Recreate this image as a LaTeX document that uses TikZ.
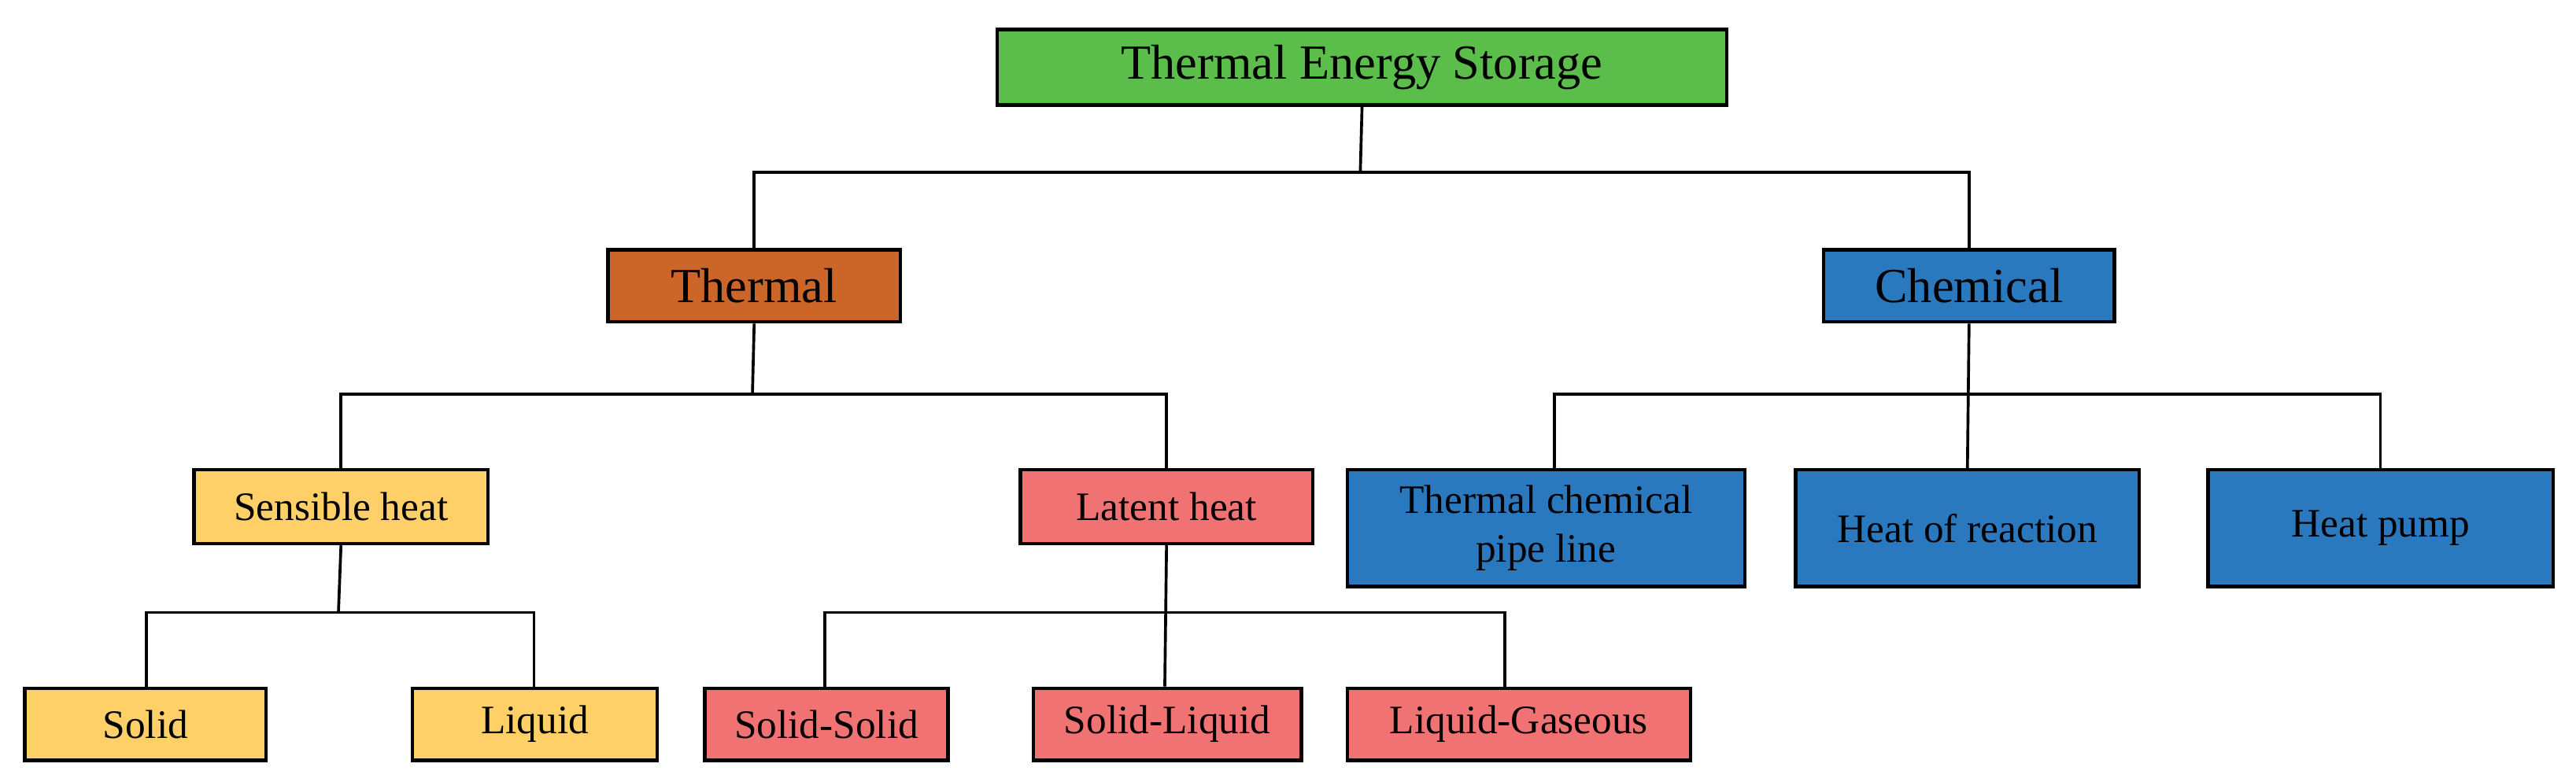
\documentclass[tikz,border=0pt]{standalone}
\usepackage{fontspec}
\setmainfont{Liberation Serif}
\begin{document}
\begin{tikzpicture}[x=0.02cm,y=-0.02cm,
 box/.style={draw=black,line width=1.2pt,inner sep=0pt,anchor=north west,align=center},
 big/.style={font=\fontsize{17}{20}\selectfont},
 sm/.style={font=\fontsize{14}{17}\selectfont},
 ln/.style={line width=1pt}]
\definecolor{cg}{HTML}{5BBD4A}
\definecolor{co}{HTML}{CC6628}
\definecolor{cy}{HTML}{FFD068}
\definecolor{cp}{HTML}{F07272}
\definecolor{cb}{HTML}{2A78BE}
\useasboundingbox (0,0) rectangle (1568,476);
\newcommand{\bx}[8]{\node[box,fill=#6,minimum width=#4*0.02cm,minimum height=#5*0.02cm,#7] (#1) at (#2,#3) {#8};}
\bx{tes}{606}{17}{444}{46}{cg}{big}{Thermal Energy Storage}
\bx{th}{369}{151}{178}{44}{co}{big}{Thermal}
\bx{ch}{1109}{151}{177}{44}{cb}{big}{Chemical}
\bx{se}{117}{285}{179}{45}{cy}{sm}{Sensible heat}
\bx{la}{620}{285}{178}{45}{cp}{sm}{Latent heat}
\bx{tc}{819}{285}{242}{71}{cb}{sm}{Thermal chemical\\pipe line}
\bx{hr}{1092}{285}{209}{71}{cb}{sm}{Heat of reaction}
\bx{hp}{1343}{285}{210}{71}{cb}{sm}{Heat pump}
\bx{so}{14}{418}{147}{44}{cy}{sm}{Solid}
\bx{li}{250}{418}{149}{44}{cy}{sm}{Liquid}
\bx{ss}{428}{418}{148}{44}{cp}{sm}{Solid-Solid}
\bx{sl}{628}{418}{163}{44}{cp}{sm}{Solid-Liquid}
\bx{lg}{819}{418}{209}{44}{cp}{sm}{Liquid-Gaseous}
\coordinate (b1) at (828,105);
\coordinate (b2) at (458,240);
\coordinate (b3) at (1197,240);
\coordinate (b4) at (206,373);
\coordinate (b5) at (709,373);
\draw[ln] (tes.south) -- (b1);
\draw[ln] (th.north) |- (b1) -| (ch.north);
\draw[ln] (th.south) -- (b2);
\draw[ln] (se.north) |- (b2) -| (la.north);
\draw[ln] (ch.south) -- (hr.north);
\draw[ln] (tc.north -| 946,0) |- (b3) -| (hp.north -| 1449,0);
\draw[ln] (se.south) -- (b4);
\draw[ln] (so.north -| 89,0) |- (b4) -| (li.north -| 325,0);
\draw[ln] (la.south) -- (sl.north -| 709,0);
\draw[ln] (ss.north -| 502,0) |- (b5) -| (lg.north -| 916,0);
\end{tikzpicture}
\end{document}
